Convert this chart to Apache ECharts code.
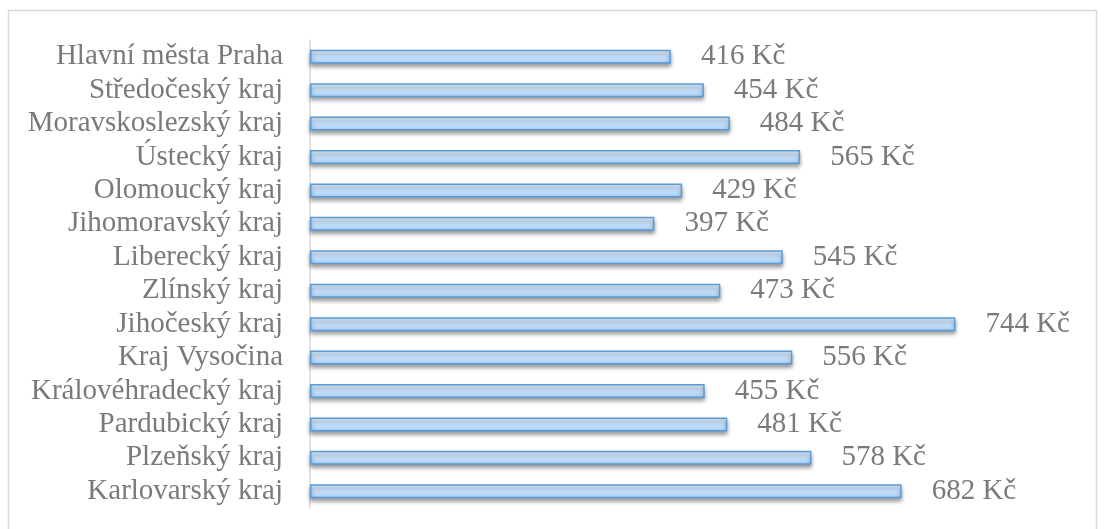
<!DOCTYPE html>
<html><head><meta charset="utf-8">
<script src="https://cdn.jsdelivr.net/npm/echarts@6/dist/echarts.min.js"></script>
<style>html,body{margin:0;padding:0;background:#fff}#c{width:1105px;height:529px}</style>
</head><body><div id="c"></div>
<script>
const categories = ["Hlavní města Praha","Středočeský kraj","Moravskoslezský kraj","Ústecký kraj","Olomoucký kraj","Jihomoravský kraj","Liberecký kraj","Zlínský kraj","Jihočeský kraj","Kraj Vysočina","Královéhradecký kraj","Pardubický kraj","Plzeňský kraj","Karlovarský kraj"];
const values = [416,454,484,565,429,397,545,473,744,556,455,481,578,682];
const chart = echarts.init(document.getElementById('c'));
chart.setOption({
  animation:false,
  graphic:[{type:'rect',shape:{x:8.5,y:10.5,width:1088,height:520},style:{fill:null,stroke:'#d9d9d9',lineWidth:1.5},silent:true}],
  grid:{left:310,right:101,top:40,bottom:21},
  xAxis:{type:'value',min:0,max:800,show:false},
  yAxis:{type:'category',data:categories,inverse:true,
    axisLine:{lineStyle:{color:'#d9d9d9',width:1.5}},axisTick:{show:false},
    axisLabel:{interval:0,color:'#7a7a7a',fontFamily:'Liberation Serif',fontSize:29,margin:27,padding:[4,0,0,0]}},
  series:[{type:'bar',data:values,barWidth:14,
    itemStyle:{color:new echarts.graphic.LinearGradient(0,0,0,1,[{offset:0,color:'#dcecfd'},{offset:0.5,color:'#c6e0fb'},{offset:1,color:'#a8cff7'}]),
      borderColor:'#5b9bd5',borderWidth:1.5,shadowColor:'rgba(0,0,0,0.4)',shadowBlur:4,shadowOffsetY:3},
    label:{show:true,position:'right',distance:30,padding:[4,0,0,0],formatter:p=>p.value+' Kč',color:'#7a7a7a',fontFamily:'Liberation Serif',fontSize:29}}]
});
</script></body></html>
